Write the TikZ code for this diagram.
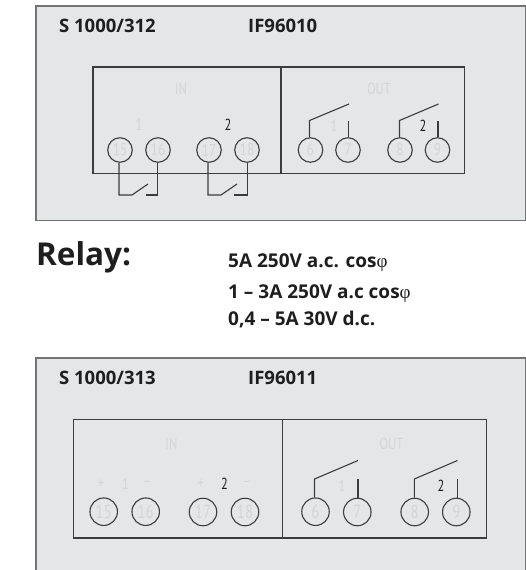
\documentclass[tikz,border=0pt]{standalone}
\usepackage{fontspec}
\setmainfont{Open Sans}
\newfontfamily\labfont[FakeStretch=0.78]{PT Sans}
\newfontfamily\phifont{Liberation Serif}
\definecolor{panel}{HTML}{E5E6E8}
\definecolor{lin}{HTML}{3C3C3C}
\definecolor{fade}{HTML}{D4D5D7}
\definecolor{ink}{HTML}{1E1E1E}
\tikzset{
  x=1pt,y=-1pt,
  panelbox/.style={draw=black!55,line width=1.1pt,fill=panel},
  innerbox/.style={draw=lin,line width=1.1pt},
  wire/.style={draw=lin,line width=1.1pt},
  term1/.style={circle,draw=lin,line width=1.1pt,minimum size=24.5pt,inner sep=0pt,font=\labfont\fontsize{17}{17}\selectfont,text=fade},
  term2/.style={term1,minimum size=27.5pt,font=\labfont\fontsize{19}{19}\selectfont},
  title/.style={inner sep=0pt,anchor=base west,font=\bfseries\fontsize{18.5}{19}\selectfont,text=ink},
  spec/.style={inner sep=0pt,anchor=base west,font=\bfseries\fontsize{19}{19}\selectfont,text=ink},
  faint/.style={inner sep=0pt,font=\labfont\fontsize{16}{16}\selectfont,text=fade},
  dark/.style={inner sep=0pt,font=\labfont\fontsize{16}{16}\selectfont,text=ink}
}
\begin{document}
\begin{tikzpicture}
\useasboundingbox (0,0) rectangle (526,570);
% panel 1
\draw[panelbox] (36,6) rectangle (525.5,220.5);
\node[title] (t1) at (59,32) {S 1000/312};
\node[title] (t2) at (248,32) {IF96010};
\draw[innerbox] (93,67) rectangle (464.7,173.5);
\draw[innerbox] (281,67) -- (281,173.5);
\node[faint] (in1) at (181,89) {IN};
\node[faint] (out1) at (379,89) {OUT};
\node[faint] (a1) at (139,125) {1};
\node[dark] (a2) at (228,124.5) {2};
\node[faint] (a3) at (334,126) {1};
\node[dark] (a4) at (423,126) {2};
\node[term1] (n15) at (120,150) {15};
\node[term1] (n16) at (158,150) {16};
\node[term1] (n17) at (209,150) {17};
\node[term1] (n18) at (247,150) {18};
\node[term1] (n6) at (310.5,150) {6};
\node[term1] (n7) at (348,150) {7};
\node[term1] (n8) at (400,150) {8};
\node[term1] (n9) at (437.5,150) {9};
% input switches 1
\coordinate (c15a) at (119,195);
\coordinate (c15b) at (132,195);
\coordinate (c15c) at (148,184);
\coordinate (c16a) at (157.5,195);
\coordinate (c16b) at (146,195);
\coordinate (c17a) at (208,195);
\coordinate (c17b) at (221,195);
\coordinate (c17c) at (237,184);
\coordinate (c18a) at (247.5,195);
\coordinate (c18b) at (234,195);
\draw[wire] (n15.south -| c15a) -- (c15a) -- (c15b) -- (c15c);
\draw[wire] (n16.south -| c16a) -- (c16a) -- (c16b);
\draw[wire] (n17.south -| c17a) -- (c17a) -- (c17b) -- (c17c);
\draw[wire] (n18.south -| c18a) -- (c18a) -- (c18b);
% output switches 1
\coordinate (o6a) at (309.5,120.5);
\coordinate (o6b) at (349,104);
\coordinate (o7a) at (348.5,120.5);
\coordinate (o8a) at (399.5,120.5);
\coordinate (o8b) at (438.5,104);
\coordinate (o9a) at (438,120.5);
\draw[wire] (n6.north -| o6a) -- (o6a) -- (o6b);
\draw[wire] (n7.north -| o7a) -- (o7a);
\draw[wire] (n8.north -| o8a) -- (o8a) -- (o8b);
\draw[wire] (n9.north -| o9a) -- (o9a);
% relay text
\node[inner sep=0pt,anchor=base west,font=\bfseries\fontsize{31.5}{34}\selectfont,text=ink] (rel) at (36,265) {Relay:};
\node[spec] (s1) at (228,267) {5A 250V a.c. cos{\phifont\fontseries{m}\selectfont φ}};
\node[spec] (s2) at (228,298) {1 – 3A 250V a.c cos{\phifont\fontseries{m}\selectfont φ}};
\node[spec] (s3) at (228,325) {0,4 – 5A 30V d.c.};
% panel 2
\fill[panel] (36,358) rectangle (525.5,570);
\draw[panelbox,fill=none] (36,570) -- (36,358) -- (525.5,358) -- (525.5,570);
\node[title] (t3) at (59,384) {S 1000/313};
\node[title] (t4) at (248,384) {IF96011};
\draw[innerbox] (73.7,419.7) rectangle (486.7,538);
\draw[innerbox] (282.7,419.7) -- (282.7,538);
\node[faint] (in2) at (171.5,443.5) {IN};
\node[faint] (out2) at (391.5,443.5) {OUT};
\node[faint] (p1) at (101,484) {+};
\node[faint] (b1) at (125.5,484) {1};
\node[faint] (m1) at (147.5,484) {–};
\node[faint] (p2) at (201,484) {+};
\node[dark] (b2) at (224.5,484) {2};
\node[faint] (m2) at (247,484) {–};
\node[faint] (b3) at (342,486) {1};
\node[dark] (b4) at (441,486) {2};
\node[term2] (m15) at (103.7,511.7) {15};
\node[term2] (m16) at (145.7,511.7) {16};
\node[term2] (m17) at (203,512) {17};
\node[term2] (m18) at (245,512) {18};
\node[term2] (m6) at (315.5,511.7) {6};
\node[term2] (m7) at (357.3,512) {7};
\node[term2] (m8) at (414.7,512) {8};
\node[term2] (m9) at (456.3,512) {9};
\coordinate (p6a) at (314.5,479);
\coordinate (p6b) at (358,460.5);
\coordinate (p7a) at (358,479);
\coordinate (p8a) at (414.3,479);
\coordinate (p8b) at (457.5,460.5);
\coordinate (p9a) at (457.3,479);
\draw[wire] (m6.north -| p6a) -- (p6a) -- (p6b);
\draw[wire] (m7.north -| p7a) -- (p7a);
\draw[wire] (m8.north -| p8a) -- (p8a) -- (p8b);
\draw[wire] (m9.north -| p9a) -- (p9a);
\end{tikzpicture}
\end{document}
